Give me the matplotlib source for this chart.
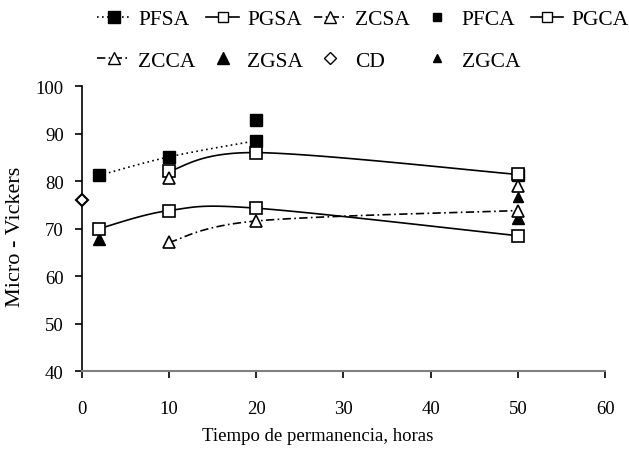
import numpy as np
import matplotlib
matplotlib.use("Agg")
import matplotlib.pyplot as plt
from matplotlib.lines import Line2D

plt.rcParams['font.family'] = ['Liberation Serif', 'DejaVu Serif']

# data
pfsa_x = [2, 10, 20]
pfsa_y = [81.2, 85.1, 88.5]
pgsa_x = [2, 10, 20, 50]
pgsa_y = [70.0, 73.8, 74.3, 68.5]
zcsa_x = [10, 20, 50]
zcsa_y = [67.1, 71.6, 73.8]
pfca_x = [20, 50]
pfca_y = [92.9, 81.2]
pgca_x = [10, 20, 50]
pgca_y = [82.1, 86.0, 81.4]
zcca_x = [10, 20, 50]
zcca_y = [80.6, np.nan, 78.9]
zgsa_x = [2, 50]
zgsa_y = [67.8, 72.2]
cd_x = [0]
cd_y = [76.1]
zgca_x = [50]
zgca_y = [76.7]


def smooth(x, y, n=40):
    # bezier smoothing, similar to the spreadsheet "smoothed line"
    x = np.asarray(x, float)
    y = np.asarray(y, float)
    if len(x) < 3:
        return x, y
    px = np.concatenate([[x[0]], x, [x[-1]]])
    py = np.concatenate([[y[0]], y, [y[-1]]])
    xs, ys = [], []
    t = np.linspace(0, 1, n)
    for i in range(1, len(px) - 2):
        p0 = np.array([px[i], py[i]])
        p3 = np.array([px[i + 1], py[i + 1]])
        c1 = p0 + (np.array([px[i + 1], py[i + 1]]) - np.array([px[i - 1], py[i - 1]])) / 6
        c2 = p3 - (np.array([px[i + 2], py[i + 2]]) - np.array([px[i], py[i]])) / 6
        b = ((1 - t) ** 3)[:, None] * p0 + (3 * (1 - t) ** 2 * t)[:, None] * c1 \
            + (3 * (1 - t) * t ** 2)[:, None] * c2 + (t ** 3)[:, None] * p3
        xs.extend(b[:, 0])
        ys.extend(b[:, 1])
    return np.array(xs), np.array(ys)


fig = plt.figure(figsize=(6.29, 4.56), dpi=100)
ax = fig.add_axes([0.130, 0.184, 0.832, 0.625])

k = 'black'
# lines
sx, sy = smooth(pfsa_x, pfsa_y)
ax.plot(sx, sy, color=k, lw=1.2, ls=(0, (1, 2)))
sx, sy = smooth(pgsa_x, pgsa_y)
ax.plot(sx, sy, color=k, lw=1.2)
sx, sy = smooth(zcsa_x, zcsa_y)
ax.plot(sx, sy, color=k, lw=1.2, ls=(0, (5, 2, 1, 2)))
sx, sy = smooth(pgca_x, pgca_y)
ax.plot(sx, sy, color=k, lw=1.2)

# markers
ms = 8
ax.plot(pfca_x, pfca_y, 's', color=k, ms=ms, zorder=3)
ax.plot(pfsa_x, pfsa_y, 's', color=k, ms=ms, zorder=3)
ax.plot(pgsa_x, pgsa_y, 's', mfc='white', mec=k, mew=1.2, ms=ms, zorder=4)
ax.plot(pgca_x, pgca_y, 's', mfc='white', mec=k, mew=1.2, ms=ms + 1, zorder=4)
ax.plot(zgsa_x, zgsa_y, '^', color=k, ms=ms + 1, zorder=3)
ax.plot(zgca_x, zgca_y, '^', color=k, ms=6.5, zorder=5)
ax.plot(zcsa_x, zcsa_y, '^', mfc='white', mec=k, mew=1.2, ms=ms + 1, zorder=4)
ax.plot(zcca_x, zcca_y, '^', mfc='white', mec=k, mew=1.2, ms=ms + 1, zorder=4)
ax.plot(cd_x, cd_y, 'D', mfc='white', mec=k, mew=1.5, ms=6.5, zorder=5, clip_on=False)

ax.set_xlim(0, 60)
ax.set_ylim(40, 100)
ax.set_xticks(range(0, 61, 10))
ax.set_yticks(range(40, 101, 10))
ax.tick_params(labelsize=13.5, length=5, width=1.2, direction='out')
ax.tick_params(axis='x', pad=15.5)
ax.tick_params(axis='y', pad=8)
for s in ['top', 'right']:
    ax.spines[s].set_visible(False)
ax.spines['left'].set_linewidth(1.2)
ax.spines['bottom'].set_color('#808080')
ax.spines['bottom'].set_linewidth(1.5)
ax.set_xlabel('Tiempo de permanencia, horas', fontsize=13.5)
ax.set_ylabel('Micro - Vickers', fontsize=16)
ax.xaxis.set_label_coords(0.451, -0.196)
ax.yaxis.set_label_coords(-0.108, 0.474)

# legend (column-major order)
def h(ls, marker, mfc, ms=8):
    return Line2D([], [], color=k, ls=ls, lw=1.2, marker=marker, mfc=mfc, mec=k, ms=ms)

handles = [
    h((0, (1, 2)), 's', k), h((0, (5, 2, 1, 2)), '^', 'white'),
    h('-', 's', 'white', 7), h('none', '^', k, 8),
    h((0, (5, 2, 1, 2)), '^', 'white'), h('none', 'D', 'white', 6),
    h('none', 's', k, 6), h('none', '^', k, 6),
    h('-', 's', 'white', 7),
]
labels = ['PFSA', 'ZCCA', 'PGSA', 'ZGSA', 'ZCSA', 'CD', 'PFCA', 'ZGCA', 'PGCA']
fig.legend(handles, labels, ncol=5, loc='upper left', bbox_to_anchor=(0.124, 1.02),
           frameon=False, fontsize=15.5, handlelength=1.5, handletextpad=0.4,
           columnspacing=0.5, labelspacing=1.0)

fig.savefig('out.png', dpi=100)
